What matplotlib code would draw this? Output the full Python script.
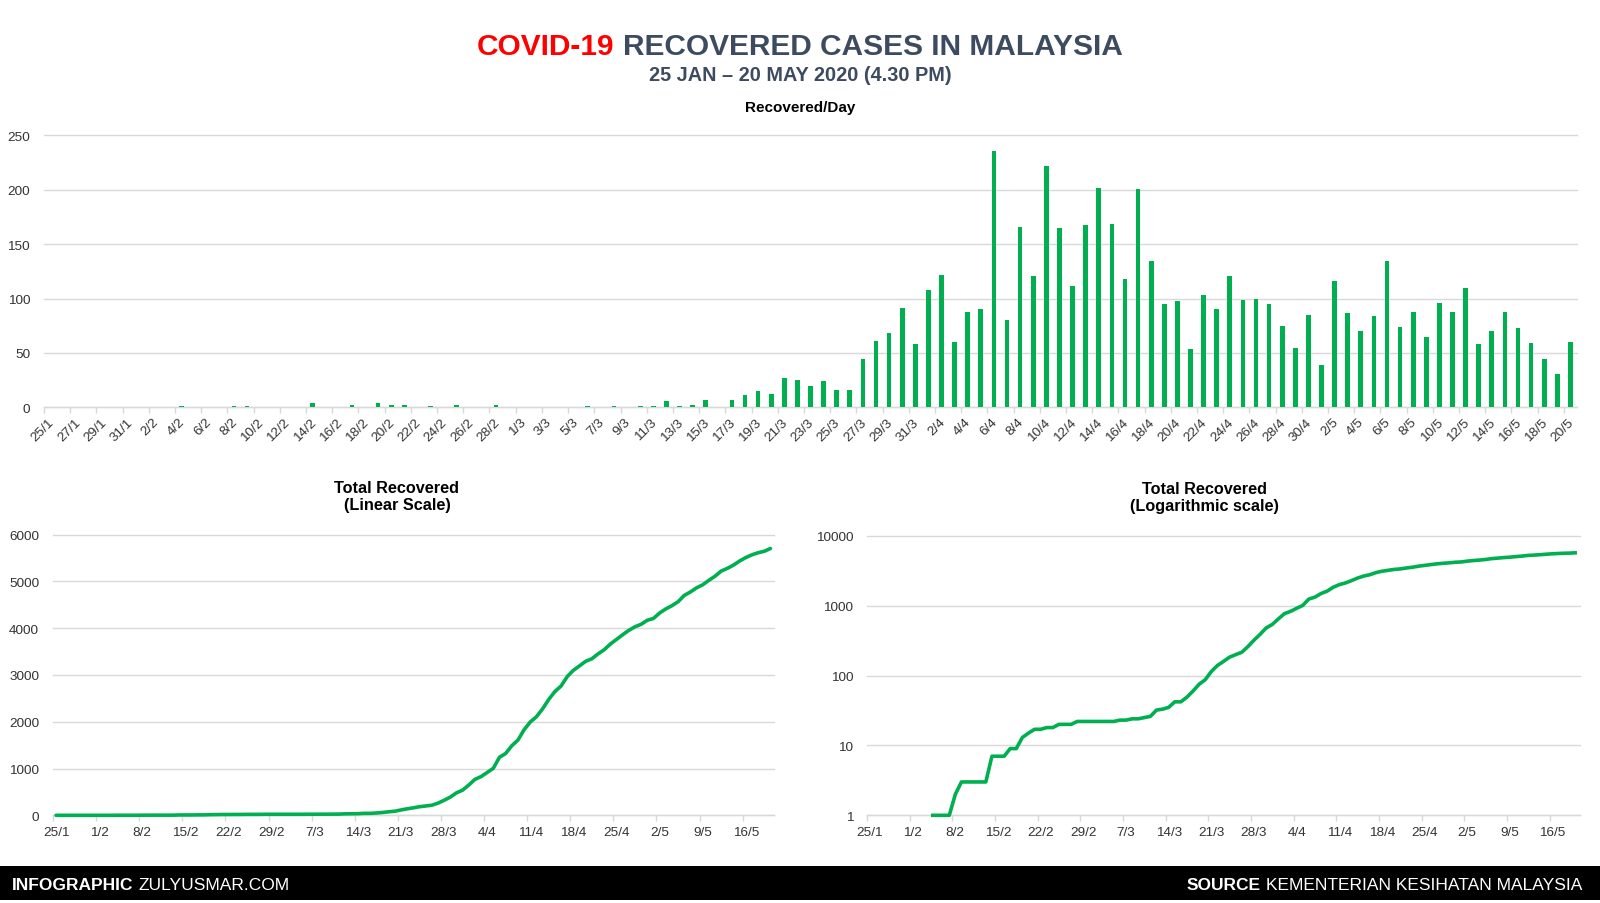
import numpy as np
import pandas as pd
import matplotlib
matplotlib.use("Agg")
import matplotlib.pyplot as plt
from matplotlib.patches import Rectangle

plt.rcParams['font.family'] = ['Liberation Sans', 'DejaVu Sans']

# ---------------- DATA ----------------
dates = pd.date_range("2020-01-25", "2020-05-20", freq="D")
categories = [f"{d.day}/{d.month}" for d in dates]

daily_recovered = [
    # 25/1 - 31/1
    0, 0, 0, 0, 0, 0, 0,
    # February 1-29
    0, 0, 0, 1, 0, 0, 0, 1, 1, 0,
    0, 0, 0, 4, 0, 0, 2, 0, 4, 2,
    2, 0, 1, 0, 2, 0, 0, 2, 0,
    # March 1-31
    0, 0, 0, 0, 0, 1, 0, 1, 0, 1,
    1, 6, 1, 2, 7, 0, 7, 11, 15, 12,
    27, 25, 20, 24, 16, 16, 44, 61, 68, 91,
    58,
    # April 1-30
    108, 122, 60, 88, 90, 236, 80, 166, 121, 222,
    165, 112, 168, 202, 169, 118, 201, 135, 95, 98,
    54, 103, 90, 121, 99, 100, 95, 75, 55, 85,
    # May 1-20
    39, 116, 87, 70, 84, 135, 74, 88, 65, 96,
    88, 110, 58, 70, 88, 73, 59, 44, 31, 60,
]
total_recovered = np.cumsum(daily_recovered)

bar_yticks = [0, 50, 100, 150, 200, 250]
lin_yticks = [0, 1000, 2000, 3000, 4000, 5000, 6000]
log_yticks = [1, 10, 100, 1000, 10000]
log_yticklabels = ["1", "10", "100", "1000", "10000"]

title_parts = [("COVID-19", "#FF0000"), ("RECOVERED CASES IN MALAYSIA", "#3C4B5F")]
subtitle = "25 JAN \u2013 20 MAY 2020 (4.30 PM)"
footer_left = [("INFOGRAPHIC", "bold"), ("ZULYUSMAR.COM", "normal")]
footer_right = [("SOURCE", "bold"), ("KEMENTERIAN KESIHATAN MALAYSIA", "normal")]

# ---------------- STYLE ----------------
GREEN = "#00B050"
GRID = "#D9D9D9"
TICKC = "#333333"
W, H = 1600, 904

fig = plt.figure(figsize=(W / 100, H / 100), dpi=100)
fig.patch.set_facecolor("white")


def rect(l, t, r, b):
    return [l / W, 1 - b / H, (r - l) / W, (b - t) / H]


def fx(x):
    return x / W


def fy(y):
    return 1 - y / H


def style_axes(ax):
    for s in ["left", "right", "top"]:
        ax.spines[s].set_visible(False)
    ax.spines["bottom"].set_color(GRID)
    ax.spines["bottom"].set_linewidth(1.0)
    ax.grid(axis="y", color=GRID, linewidth=1.0)
    ax.set_axisbelow(True)
    ax.tick_params(axis="y", length=0, labelsize=9.7, labelcolor=TICKC, pad=10)
    ax.tick_params(axis="x", which="major", length=4, color=GRID, width=1)
    ax.tick_params(axis="x", which="minor", length=0, labelsize=9.7, labelcolor=TICKC)
    for gl in ax.get_ygridlines():
        gl.set_clip_on(False)


x = np.arange(len(categories))

# ---------------- BAR CHART ----------------
ax1 = fig.add_axes(rect(44, 136.5, 1577, 408.3))
ax1.bar(x, daily_recovered, width=0.36, color=GREEN, zorder=3)
ax1.set_xlim(-0.5, len(categories) - 0.5)
ax1.set_ylim(0, 250)
ax1.set_yticks(bar_yticks)
style_axes(ax1)
lab_idx = np.arange(0, len(categories), 2)
ax1.set_xticks(lab_idx - 0.5)
ax1.set_xticklabels([])
ax1.set_xticks(lab_idx - 0.2, minor=True)
ax1.set_xticklabels([categories[i] for i in lab_idx], minor=True,
                    rotation=45, ha="right", va="top", rotation_mode="anchor")
ax1.tick_params(axis="x", which="minor", pad=6)

# ---------------- LINEAR CHART ----------------
ax2 = fig.add_axes(rect(53, 535.7, 773.5, 816.3))
ax2.plot(x, total_recovered, color=GREEN, lw=2.6, solid_joinstyle="round",
         solid_capstyle="round", clip_on=False, zorder=3)
ax2.set_xlim(-0.5, len(categories) - 0.5)
ax2.set_ylim(0, 6000)
ax2.set_yticks(lin_yticks)
style_axes(ax2)
wk_idx = np.arange(0, len(categories), 7)
ax2.set_xticks(wk_idx - 0.5)
ax2.set_xticklabels([])
ax2.set_xticks(wk_idx, minor=True)
ax2.set_xticklabels([categories[i] for i in wk_idx], minor=True)
ax2.tick_params(axis="x", which="minor", pad=8)

# ---------------- LOG CHART ----------------
ax3 = fig.add_axes(rect(867, 536.7, 1580, 816.3))
log_vals = np.where(total_recovered > 0, total_recovered, np.nan).astype(float)
ax3.plot(x, log_vals, color=GREEN, lw=2.6, solid_joinstyle="round",
         solid_capstyle="butt", clip_on=False, zorder=3)
ax3.set_yscale("log")
ax3.set_xlim(-0.5, len(categories) - 0.5)
ax3.set_ylim(1, 10000)
ax3.set_yticks(log_yticks)
ax3.set_yticklabels(log_yticklabels)
ax3.yaxis.set_minor_locator(matplotlib.ticker.NullLocator())
style_axes(ax3)
ax3.set_xticks(wk_idx - 0.5)
ax3.set_xticklabels([])
ax3.set_xticks(wk_idx, minor=True)
ax3.set_xticklabels([categories[i] for i in wk_idx], minor=True)
ax3.tick_params(axis="x", which="minor", pad=8)

# ---------------- TEXTS ----------------
renderer = fig.canvas.get_renderer()


def text_width(s, **kw):
    t = fig.text(0, 0, s, **kw)
    w = t.get_window_extent(renderer=renderer).width
    t.remove()
    return w


def multi(parts, x, y, align, size, weights=None, colors=None):
    kws = []
    for i, p in enumerate(parts):
        kws.append(dict(fontsize=size,
                        fontweight=weights[i] if weights else "bold",
                        color=colors[i] if colors else "white"))
    widths = [text_width(p, **k) for p, k in zip(parts, kws)]
    sp = text_width("a a", **kws[-1]) - text_width("aa", **kws[-1])
    total = sum(widths) + sp * (len(parts) - 1)
    if align == "center":
        x0 = x - total / 2
    elif align == "right":
        x0 = x - total
    else:
        x0 = x
    for p, k, w in zip(parts, kws, widths):
        fig.text(fx(x0), fy(y), p, ha="left", va="baseline", **k)
        x0 += w + sp


multi([p for p, c in title_parts], 800, 55, "center", 21.5,
      weights=["bold", "bold"], colors=[c for p, c in title_parts])
fig.text(0.5, fy(80.6), subtitle, ha="center", va="baseline", fontsize=14.3,
         fontweight="bold", color="#3C4B5F")
fig.text(0.5, fy(112), "Recovered/Day", ha="center", va="baseline", fontsize=11,
         fontweight="bold", color="black")
fig.text(fx(397), fy(493), "Total Recovered", ha="center", va="baseline",
         fontsize=11.7, fontweight="bold", color="black")
fig.text(fx(397), fy(510), "(Linear Scale)", ha="center", va="baseline",
         fontsize=11.7, fontweight="bold", color="black")
fig.text(fx(1204), fy(494), "Total Recovered", ha="center", va="baseline",
         fontsize=11.7, fontweight="bold", color="black")
fig.text(fx(1204), fy(511), "(Logarithmic scale)", ha="center", va="baseline",
         fontsize=11.7, fontweight="bold", color="black")

# footer bar
fig.patches.append(Rectangle((0, fy(901)), 1, (901 - 867) / H, transform=fig.transFigure,
                             facecolor="black", edgecolor="none", zorder=0))
multi([p for p, w in footer_left], 12, 890, "left", 12.5,
      weights=[w for p, w in footer_left], colors=["white", "white"])
multi([p for p, w in footer_right], 1582, 890, "right", 12.5,
      weights=[w for p, w in footer_right], colors=["white", "white"])

fig.savefig("out.png", dpi=100, facecolor="white")
